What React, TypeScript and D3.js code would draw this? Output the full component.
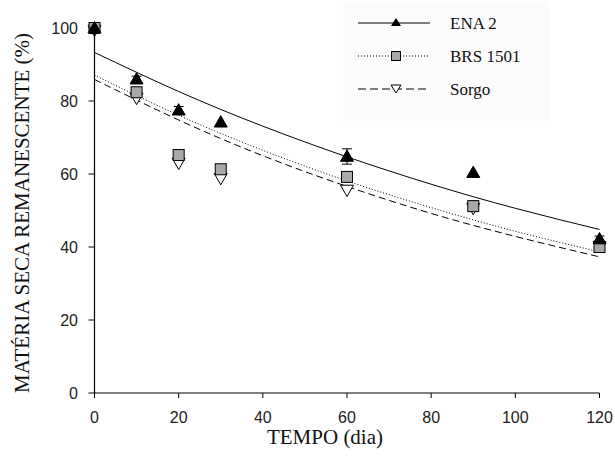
import React from "react";
import * as d3 from "d3";

const days = [0, 10, 20, 30, 60, 90, 120];
const ena2 = [100, 86, 77.5, 74.2, 64.8, 60.4, 42.2];
const brs1501 = [100, 82.4, 65.2, 61.3, 59.2, 51.2, 40];
const sorgo = [99.4, 80.8, 63, 58.8, 55.6, 50.6, 40.2];
const ena2Err = [1, 0.8, 1, 0, 2.1, 0, 0.8];
const brsErr = [0.8, 0.8, 0.8, 0, 0, 0, 0.8];
const sorgoErr = [0, 0, 0, 0, 0, 0, 0];

const fitDays = [0, 20, 40, 60, 80, 100, 120];
const ena2Fit = [93.3, 82.6, 73.1, 64.7, 57.2, 50.6, 44.8];
const brsFit = [87.1, 76.1, 66.5, 58.1, 50.8, 44.3, 38.7];
const sorgoFit = [85.9, 74.8, 65.0, 56.6, 49.2, 42.9, 37.3];

const xTicks = [0, 20, 40, 60, 80, 100, 120];
const yTicks = [0, 20, 40, 60, 80, 100];
const seriesNames = ["ENA 2", "BRS 1501", "Sorgo"];

const W = 615;
const H = 457;
const x = d3.scaleLinear().domain([0, 120]).range([94.5, 599.5]);
const y = d3.scaleLinear().domain([0, 100]).range([393, 28]);

type Kind = "up" | "square" | "down";

function Marker({ kind, cx, cy }: { kind: Kind; cx: number; cy: number }) {
  if (kind === "up") {
    const s = 6.5;
    return (
      <path
        d={`M${cx},${cy - s} L${cx + s},${cy + s * 0.75} L${cx - s},${cy + s * 0.75} Z`}
        fill="#000"
        stroke="#000"
        strokeWidth={1}
      />
    );
  }
  if (kind === "square") {
    const s = 5.5;
    return (
      <rect x={cx - s} y={cy - s} width={2 * s} height={2 * s} fill="#a8a8a8" stroke="#000" strokeWidth={1} />
    );
  }
  const s = 6.5;
  return (
    <path
      d={`M${cx},${cy + s} L${cx + s},${cy - s * 0.75} L${cx - s},${cy - s * 0.75} Z`}
      fill="#fff"
      stroke="#000"
      strokeWidth={1}
    />
  );
}

export default function App() {
  const line = d3
    .line<number>()
    .x((_, i) => x(fitDays[i]))
    .y((d) => y(d))
    .curve(d3.curveNatural);

  const fits = [
    { vals: ena2Fit, dash: undefined },
    { vals: brsFit, dash: "1,2" },
    { vals: sorgoFit, dash: "7,4" },
  ];
  const pts: { vals: number[]; err: number[]; kind: Kind }[] = [
    { vals: sorgo, err: sorgoErr, kind: "down" },
    { vals: brs1501, err: brsErr, kind: "square" },
    { vals: ena2, err: ena2Err, kind: "up" },
  ];
  const legendDash = [undefined, "1,2", "8,4"];
  const legendKinds: Kind[] = ["up", "square", "down"];
  const legendY = [23, 56, 89];

  return (
    <svg width={W} height={H} style={{ position: "absolute", left: 0, top: 0, background: "#fff" }}>
      <rect x={0} y={0} width={W} height={H} fill="#fff" />
      {/* legend background */}
      <rect x={343} y={2} width={207} height={119} fill="#fcfcfc" />

      {/* fit curves */}
      {fits.map((f, i) => (
        <path key={i} d={line(f.vals) || ""} fill="none" stroke="#000" strokeWidth={1} strokeDasharray={f.dash} />
      ))}

      {/* error bars */}
      {pts.map((s, si) =>
        s.vals.map((v, i) =>
          s.err[i] > 0 ? (
            <g key={`e${si}-${i}`} stroke="#000" strokeWidth={1}>
              <line x1={x(days[i])} x2={x(days[i])} y1={y(v - s.err[i])} y2={y(v + s.err[i])} />
              <line x1={x(days[i]) - 5} x2={x(days[i]) + 5} y1={y(v + s.err[i])} y2={y(v + s.err[i])} />
              <line x1={x(days[i]) - 5} x2={x(days[i]) + 5} y1={y(v - s.err[i])} y2={y(v - s.err[i])} />
            </g>
          ) : null
        )
      )}

      {/* markers */}
      {pts.map((s, si) =>
        s.vals.map((v, i) => <Marker key={`m${si}-${i}`} kind={s.kind} cx={x(days[i])} cy={y(v)} />)
      )}

      {/* axes */}
      <line x1={x(0)} x2={x(0)} y1={y(0)} y2={y(100)} stroke="#000" strokeWidth={1.2} />
      <line x1={x(0)} x2={x(120)} y1={y(0)} y2={y(0)} stroke="#000" strokeWidth={1.2} />
      {yTicks.map((t) => (
        <g key={`yt${t}`}>
          <line x1={x(0) - 6} x2={x(0)} y1={y(t)} y2={y(t)} stroke="#000" strokeWidth={1} />
          <text
            x={78}
            y={y(t)}
            dy="0.36em"
            textAnchor="end"
            fontFamily="'Liberation Sans', Arial, sans-serif"
            fontSize={16}
            fill="#222"
          >
            {t}
          </text>
        </g>
      ))}
      {xTicks.map((t) => (
        <g key={`xt${t}`}>
          <line x1={x(t)} x2={x(t)} y1={y(0)} y2={y(0) + 5} stroke="#000" strokeWidth={1} />
          <text
            x={x(t)}
            y={423}
            textAnchor="middle"
            fontFamily="'Liberation Sans', Arial, sans-serif"
            fontSize={16}
            fill="#222"
          >
            {t}
          </text>
        </g>
      ))}

      <text
        x={325}
        y={444}
        textAnchor="middle"
        fontFamily="'Liberation Serif', 'Times New Roman', serif"
        fontSize={21}
        fill="#111"
      >
        TEMPO (dia)
      </text>
      <text
        transform={`translate(29,${213}) rotate(-90)`}
        textAnchor="middle"
        fontFamily="'Liberation Serif', 'Times New Roman', serif"
        fontSize={21}
        fill="#111"
      >
        MATÉRIA SECA REMANESCENTE (%)
      </text>

      {/* legend */}
      {seriesNames.map((n, i) => (
        <g key={`lg${i}`}>
          <line x1={358} x2={430} y1={legendY[i]} y2={legendY[i]} stroke="#000" strokeWidth={1} strokeDasharray={legendDash[i]} />
          <g transform="translate(0,0)">
            {legendKinds[i] === "up" ? (
              <path d={`M396,${legendY[i] - 5} L401,${legendY[i] + 3} L391,${legendY[i] + 3} Z`} fill="#000" />
            ) : legendKinds[i] === "square" ? (
              <rect x={391.5} y={legendY[i] - 4.5} width={9} height={9} fill="#a8a8a8" stroke="#000" />
            ) : (
              <path
                d={`M396,${legendY[i] + 4} L401,${legendY[i] - 4} L391,${legendY[i] - 4} Z`}
                fill="#fff"
                stroke="#000"
              />
            )}
          </g>
          <text
            x={450}
            y={legendY[i]}
            dy="0.33em"
            fontFamily="'Liberation Serif', 'Times New Roman', serif"
            fontSize={17}
            fill="#111"
          >
            {n}
          </text>
        </g>
      ))}
    </svg>
  );
}
